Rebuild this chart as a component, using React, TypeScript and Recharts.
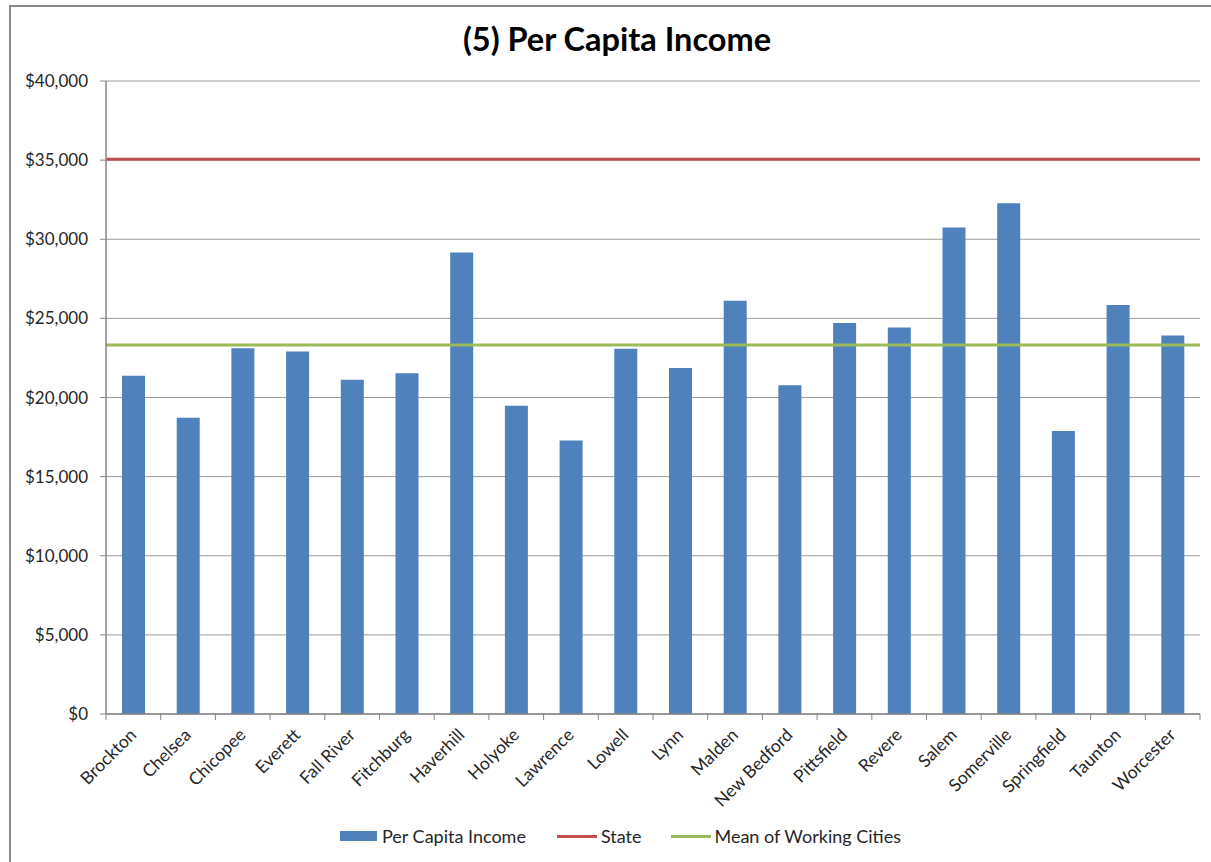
import React from 'react';
import { BarChart, Bar, XAxis, YAxis, CartesianGrid, ReferenceLine, Legend } from 'recharts';

const cities = [
  'Brockton', 'Chelsea', 'Chicopee', 'Everett', 'Fall River', 'Fitchburg', 'Haverhill',
  'Holyoke', 'Lawrence', 'Lowell', 'Lynn', 'Malden', 'New Bedford', 'Pittsfield',
  'Revere', 'Salem', 'Somerville', 'Springfield', 'Taunton', 'Worcester',
];
const perCapitaIncome = [
  21370, 18720, 23120, 22910, 21120, 21540, 29160,
  19480, 17280, 23080, 21860, 26110, 20780, 24700,
  24420, 30740, 32280, 17880, 25840, 23920,
];
const stateIncome = 35050;
const meanWorkingCities = 23320;
const yTicks = [0, 5000, 10000, 15000, 20000, 25000, 30000, 35000, 40000];
const seriesNames = ['Per Capita Income', 'State', 'Mean of Working Cities'];

const data = cities.map((city, i) => ({ city, income: perCapitaIncome[i] }));

const FONT = 'Lato, "DejaVu Sans", sans-serif';
const BLUE = '#4F81BD';
const RED = '#C0504D';
const GREEN = '#9BBB59';
const AXIS = '#868686';

const CityTick = (props: any) => {
  const { x, y, payload, index, width, visibleTicksCount } = props;
  const band = width && visibleTicksCount ? width / visibleTicksCount : 54.7;
  const last = index === visibleTicksCount - 1;
  const ax = x + 4;
  const ay = y + 22;
  return (
    <g>
      <line x1={x - band / 2} x2={x - band / 2} y1={y} y2={y + 6} stroke={AXIS} strokeWidth={1} />
      {last && <line x1={x + band / 2} x2={x + band / 2} y1={y} y2={y + 6} stroke={AXIS} strokeWidth={1} />}
      <text
        x={ax}
        y={ay}
        textAnchor="end"
        transform={`rotate(-45, ${ax}, ${ay})`}
        fontFamily={FONT}
        fontSize={17.5}
        fill="#262626"
      >
        {payload.value}
      </text>
    </g>
  );
};

const LegendContent = () => (
  <div style={{ display: 'flex', alignItems: 'center', height: 24, paddingLeft: 340, fontFamily: FONT, fontSize: 18, color: '#262626' }}>
    <span style={{ display: 'inline-block', width: 37, height: 10, background: BLUE, marginRight: 5 }} />
    <span style={{ marginRight: 31 }}>{seriesNames[0]}</span>
    <span style={{ display: 'inline-block', width: 40, height: 3, background: RED, marginRight: 4 }} />
    <span style={{ marginRight: 30 }}>{seriesNames[1]}</span>
    <span style={{ display: 'inline-block', width: 40, height: 3, background: GREEN, marginRight: 3 }} />
    <span>{seriesNames[2]}</span>
  </div>
);

export default function App() {
  return (
    <div style={{ position: 'absolute', left: 0, top: 0, width: 1211, height: 862, overflow: 'hidden', background: '#fff' }}>
      <div style={{ position: 'absolute', left: 9, top: 5, width: 1300, height: 900, border: '2px solid #8a8a8a', boxSizing: 'border-box' }} />
      <div style={{ position: 'absolute', left: 0, top: 19, width: 1234, textAlign: 'center', fontFamily: FONT, fontWeight: 700, fontSize: 32.5, color: '#000' }}>
        (5) Per Capita Income
      </div>
      <div style={{ position: 'absolute', left: 0, top: 0 }}>
        <BarChart width={1211} height={862} data={data} margin={{ top: 81, right: 11, left: 0, bottom: 14 }}>
          <CartesianGrid vertical={false} stroke="#9a9a9a" strokeWidth={1} />
          <XAxis
            dataKey="city"
            interval={0}
            height={110}
            tickSize={0}
            tickMargin={0}
            tickLine={false}
            axisLine={{ stroke: AXIS, strokeWidth: 1.5 }}
            tick={<CityTick />}
          />
          <YAxis
            width={106}
            domain={[0, 40000]}
            ticks={yTicks}
            tickSize={6}
            tickMargin={12}
            tickLine={{ stroke: AXIS }}
            axisLine={{ stroke: AXIS, strokeWidth: 1.5 }}
            tickFormatter={(v: number) => `$${v.toLocaleString('en-US')}`}
            tick={{ fontFamily: FONT, fontSize: 17, fill: '#262626' }}
          />
          <Bar dataKey="income" name={seriesNames[0]} fill={BLUE} barSize={23} isAnimationActive={false} />
          <ReferenceLine y={stateIncome} stroke={RED} strokeWidth={3} />
          <ReferenceLine y={meanWorkingCities} stroke={GREEN} strokeWidth={3} />
          <Legend verticalAlign="bottom" content={<LegendContent />} />
        </BarChart>
      </div>
    </div>
  );
}
